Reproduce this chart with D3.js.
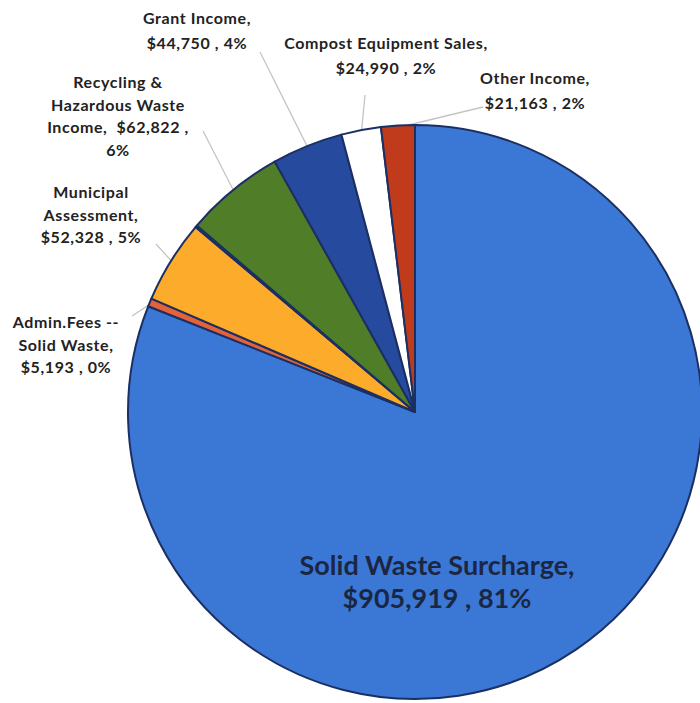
<!DOCTYPE html>
<html>
<head>
<meta charset="utf-8">
<script src="https://cdn.jsdelivr.net/npm/d3@7"></script>
<style>
    body { margin: 0; background: #fff; }
    svg { display: block; }
    .label { font-family: Lato, "Open Sans", sans-serif; font-weight: bold; fill: #262626; }
</style>
</head>
<body>
<div id="chart"></div>
<script>
// Slices, clockwise from 12 o'clock
const categories = ['Solid Waste Surcharge', 'Admin.Fees -- Solid Waste', 'Municipal Assessment',
    '(unlabelled)', 'Recycling & Hazardous Waste Income', 'Grant Income',
    'Compost Equipment Sales', 'Other Income'];
const values = [905919, 5193, 52328, 1200, 62822, 44750, 24990, 21163];
const colors = ['#3b78d6', '#e2623a', '#fdab2b', '#a39a86', '#4f7d28', '#264a9e', '#ffffff', '#c03b1c'];

// label text lines per slice (null = no label)
const labelLines = [
    ['Solid Waste Surcharge,', '$905,919 , 81%'],
    ['Admin.Fees --', 'Solid Waste,', '$5,193 , 0%'],
    ['Municipal', 'Assessment,', '$52,328 , 5%'],
    null,
    ['Recycling &', 'Hazardous Waste', 'Income,  $62,822 ,', '6%'],
    ['Grant Income,', '$44,750 , 4%'],
    ['Compost Equipment Sales,', '$24,990 , 2%'],
    ['Other Income,', '$21,163 , 2%']
];

const width = 700, height = 703;
const cx = 415, cy = 412, radius = 287;

// label placement: centre x, first line y, and end of leader line
const labelPos = [
    {x: 437, y: 575, size: 27, lh: 33, inside: true},
    {x: 66, y: 328, size: 16, lh: 22.5, lx: 132, ly: 316},
    {x: 91, y: 198, size: 16, lh: 22.5, lx: 156, ly: 244},
    null,
    {x: 118, y: 88, size: 16, lh: 22.5, lx: 203, ly: 131},
    {x: 197, y: 24, size: 16, lh: 24.5, lx: 260, ly: 52},
    {x: 386, y: 49, size: 16, lh: 25, lx: 365, ly: 95},
    {x: 535, y: 84, size: 16, lh: 25, lx: 483, ly: 107}
];

const svg = d3.select('#chart').append('svg')
    .attr('width', width)
    .attr('height', height);

const pie = d3.pie().sort(null).value(d => d);
const arcs = pie(values);

const arc = d3.arc().innerRadius(0).outerRadius(radius);

const g = svg.append('g').attr('transform', `translate(${cx},${cy})`);

// leader lines
arcs.forEach(function(a, i) {
    const p = labelPos[i];
    if (!p || p.inside) return;
    const mid = (a.startAngle + a.endAngle) / 2;
    const x1 = Math.sin(mid) * (radius - 2);
    const y1 = -Math.cos(mid) * (radius - 2);
    g.append('line')
        .attr('x1', x1).attr('y1', y1)
        .attr('x2', p.lx - cx).attr('y2', p.ly - cy)
        .attr('stroke', '#c4c4c4')
        .attr('stroke-width', 1.3);
});

g.selectAll('path.slice').data(arcs).enter()
    .append('path')
    .attr('class', 'slice')
    .attr('d', arc)
    .attr('fill', (d, i) => colors[i])
    .attr('stroke', '#1c2f63')
    .attr('stroke-width', 2)
    .attr('stroke-linejoin', 'round');

// labels
labelLines.forEach(function(lines, i) {
    const p = labelPos[i];
    if (!lines) return;
    const t = svg.append('text')
        .attr('class', 'label')
        .attr('text-anchor', 'middle')
        .style('font-size', p.size + 'px')
        .style('letter-spacing', p.inside ? '0px' : '0.6px')
        .style('fill', p.inside ? '#1b2742' : '#222222');
    lines.forEach(function(s, j) {
        t.append('tspan')
            .attr('x', p.x)
            .attr('y', p.y + j * p.lh)
            .attr('xml:space', 'preserve')
            .text(s);
    });
});
</script>
</body>
</html>
